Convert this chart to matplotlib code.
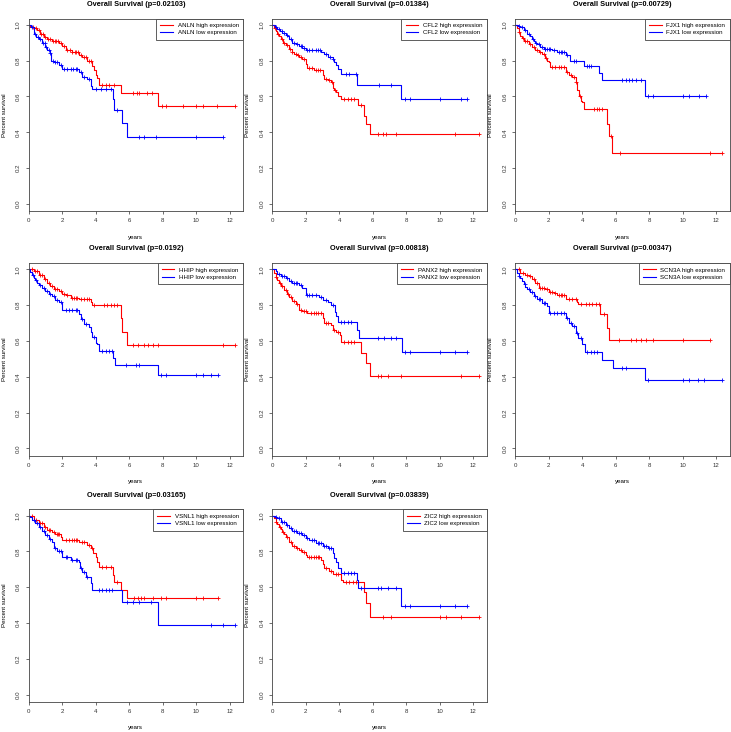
import numpy as np
import matplotlib
matplotlib.use("Agg")
from matplotlib import pyplot as plt
from matplotlib.lines import Line2D

plt.rcParams['font.family'] = ['Liberation Sans', 'DejaVu Sans']

GENES = ['ANLN', 'CFL2', 'FJX1', 'HHIP', 'PANX2', 'SCN3A', 'VSNL1', 'ZIC2']
PVALS = ['0.02103', '0.01384', '0.00729', '0.0192', '0.00818', '0.00347', '0.03165', '0.03839']

# Kaplan-Meier curves: event times (T), survival after each event (S), censor times (C)
ANLN_HIGH_T = [0.1, 0.3, 0.5, 0.7, 0.9, 1.1, 1.4, 1.8, 2.0, 2.2, 2.6, 3.0, 3.2, 3.5, 3.8, 3.9, 4.0, 4.1, 4.2, 5.5, 7.7]
ANLN_HIGH_S = [0.99, 0.98, 0.97, 0.95, 0.93, 0.92, 0.91, 0.90, 0.88, 0.86, 0.85, 0.83, 0.82, 0.80, 0.77, 0.75, 0.72, 0.70, 0.665, 0.62, 0.545]
ANLN_HIGH_C = [0.25, 0.45, 0.6, 0.75, 0.85, 1.0, 1.15, 1.3, 1.45, 1.55, 1.65, 1.75, 1.9, 2.1, 2.3, 2.45, 2.6, 2.75,
               2.85, 2.95, 3.1, 3.3, 3.45, 3.6, 3.75, 4.4, 4.6, 4.8, 5.1, 6.23, 6.47, 6.6, 7.06, 7.36, 7.96, 8.18,
               9.19, 9.99, 10.4, 11.24, 12.34]
ANLN_LOW_T = [0.15, 0.3, 0.45, 0.6, 0.8, 1.0, 1.1, 1.25, 1.35, 1.5, 1.8, 2.0, 3.0, 3.2, 3.5, 3.7, 3.8, 5.05, 5.1, 5.6, 5.85]
ANLN_LOW_S = [0.985, 0.95, 0.93, 0.92, 0.90, 0.875, 0.86, 0.84, 0.80, 0.79, 0.773, 0.754, 0.735, 0.707, 0.698, 0.66, 0.642, 0.587, 0.525, 0.45, 0.376]
ANLN_LOW_C = [0.2, 0.35, 0.55, 0.7, 0.85, 0.95, 1.05, 1.2, 1.3, 1.45, 1.6, 1.7, 1.9, 2.1, 2.3, 2.5, 2.65, 2.8, 2.9,
              3.1, 3.3, 3.6, 4.0, 4.3, 4.6, 4.9, 5.27, 6.57, 6.87, 7.6, 9.99, 11.6]

CFL2_HIGH_T = [0.1, 0.2, 0.3, 0.4, 0.5, 0.65, 0.8, 1.0, 1.15, 1.3, 1.5, 1.6, 1.8, 2.0, 2.1, 2.5, 2.9, 3.0, 3.1, 3.3,
               3.5, 3.6, 3.7, 3.8, 3.9, 4.1, 5.1, 5.5, 5.6, 5.85]
CFL2_HIGH_S = [0.98, 0.965, 0.95, 0.935, 0.92, 0.9, 0.885, 0.866, 0.85, 0.838, 0.83, 0.82, 0.81, 0.782, 0.758, 0.75,
               0.745, 0.717, 0.695, 0.69, 0.68, 0.648, 0.635, 0.624, 0.605, 0.587, 0.55, 0.493, 0.447, 0.39]
CFL2_HIGH_C = [0.15, 0.35, 0.55, 0.7, 0.9, 1.05, 1.2, 1.4, 1.55, 1.7, 1.9, 2.2, 2.35, 2.6, 2.75, 2.85, 3.2, 3.4,
               3.55, 3.75, 4.3, 4.5, 4.7, 4.9, 5.3, 6.3, 6.6, 6.8, 7.4, 10.9, 12.35]
CFL2_LOW_T = [0.15, 0.3, 0.45, 0.6, 0.8, 0.9, 1.0, 1.2, 1.4, 1.6, 1.8, 2.0, 2.9, 3.1, 3.3, 3.6, 3.7, 3.8, 3.9, 4.1, 5.05, 7.7]
CFL2_LOW_S = [0.99, 0.978, 0.965, 0.954, 0.945, 0.935, 0.92, 0.90, 0.894, 0.88, 0.87, 0.86, 0.847, 0.838, 0.82, 0.81,
              0.79, 0.773, 0.754, 0.726, 0.665, 0.583]
CFL2_LOW_C = [0.2, 0.4, 0.55, 0.7, 0.85, 1.1, 1.3, 1.5, 1.7, 1.75, 1.9, 2.1, 2.2, 2.4, 2.6, 2.75, 2.85, 3.2, 3.45,
              3.65, 4.4, 4.6, 5.0, 6.4, 7.1, 7.9, 8.2, 10.0, 11.3, 11.65]

FJX1_HIGH_T = [0.1, 0.2, 0.3, 0.4, 0.5, 0.8, 1.0, 1.2, 1.4, 1.6, 1.8, 1.9, 2.0, 2.05, 3.0, 3.2, 3.4, 3.6, 3.7, 3.8,
               3.9, 4.0, 4.1, 5.5, 5.6, 5.8]
FJX1_HIGH_S = [0.98, 0.96, 0.94, 0.925, 0.91, 0.89, 0.875, 0.86, 0.847, 0.834, 0.816, 0.80, 0.79, 0.764, 0.735, 0.717,
               0.707, 0.68, 0.633, 0.605, 0.577, 0.568, 0.53, 0.447, 0.38, 0.283]
FJX1_HIGH_C = [0.25, 0.45, 0.6, 0.7, 0.9, 1.1, 1.3, 1.5, 1.7, 1.85, 2.2, 2.4, 2.6, 2.75, 2.9, 3.1, 3.3, 3.5, 3.65,
               3.85, 4.7, 4.9, 5.0, 5.2, 5.7, 6.25, 11.6, 12.35]
FJX1_LOW_T = [0.15, 0.3, 0.5, 0.7, 0.9, 1.0, 1.1, 1.2, 1.3, 1.5, 1.7, 2.2, 2.5, 3.0, 3.25, 4.1, 5.0, 5.2, 7.75]
FJX1_LOW_S = [0.995, 0.987, 0.968, 0.95, 0.935, 0.92, 0.91, 0.90, 0.89, 0.875, 0.866, 0.857, 0.847, 0.83, 0.80, 0.77,
              0.73, 0.689, 0.60]
FJX1_LOW_C = [0.2, 0.4, 0.6, 0.8, 1.05, 1.25, 1.4, 1.6, 1.75, 1.8, 1.9, 2.0, 2.1, 2.3, 2.6, 2.7, 2.8, 2.9, 3.1, 3.5,
              3.6, 4.3, 4.4, 4.5, 6.4, 6.6, 6.8, 7.0, 7.2, 7.5, 7.9, 8.2, 10.0, 10.4, 11.0, 11.4]

HHIP_HIGH_T = [0.3, 0.6, 0.9, 1.1, 1.3, 1.5, 1.8, 2.0, 2.2, 2.5, 3.0, 3.75, 3.8, 5.5, 5.6, 5.85]
HHIP_HIGH_S = [0.99, 0.97, 0.947, 0.925, 0.906, 0.89, 0.88, 0.863, 0.854, 0.84, 0.835, 0.816, 0.80, 0.726, 0.65, 0.578]
HHIP_HIGH_C = [0.2, 0.4, 0.5, 0.7, 0.8, 1.0, 1.2, 1.4, 1.6, 1.7, 1.9, 2.1, 2.3, 2.6, 2.7, 2.8, 2.9, 3.1, 3.3, 3.5,
               3.6, 3.9, 4.5, 4.7, 4.9, 5.1, 5.3, 6.2, 6.5, 6.9, 7.1, 7.4, 7.7, 11.6, 12.35]
HHIP_LOW_T = [0.1, 0.2, 0.3, 0.4, 0.5, 0.6, 0.8, 1.0, 1.2, 1.4, 1.6, 1.8, 2.0, 3.0, 3.1, 3.3, 3.6, 3.7, 3.8, 4.0,
              4.1, 4.2, 5.05, 5.15, 7.75]
HHIP_LOW_S = [0.985, 0.966, 0.95, 0.938, 0.925, 0.914, 0.895, 0.88, 0.863, 0.848, 0.83, 0.816, 0.775, 0.75, 0.722,
              0.694, 0.68, 0.647, 0.62, 0.59, 0.58, 0.544, 0.507, 0.465, 0.41]
HHIP_LOW_C = [0.25, 0.45, 0.7, 0.9, 1.1, 1.3, 1.5, 1.7, 1.9, 2.2, 2.4, 2.6, 2.8, 2.9, 3.2, 3.4, 3.9, 4.4, 4.6, 4.8,
              5.0, 5.8, 6.4, 6.6, 7.9, 8.2, 10.0, 10.4, 10.9, 11.3]

PANX2_HIGH_T = [0.1, 0.2, 0.3, 0.4, 0.5, 0.7, 0.9, 1.0, 1.2, 1.4, 1.6, 1.8, 2.1, 3.0, 3.1, 3.5, 3.6, 3.8, 4.05, 4.1,
                5.3, 5.6, 5.85]
PANX2_HIGH_S = [0.978, 0.959, 0.94, 0.925, 0.907, 0.885, 0.862, 0.847, 0.825, 0.805, 0.773, 0.765, 0.754, 0.726,
                0.702, 0.69, 0.661, 0.652, 0.633, 0.592, 0.531, 0.475, 0.404]
PANX2_HIGH_C = [0.25, 0.45, 0.6, 0.8, 0.95, 1.1, 1.3, 1.5, 1.7, 1.9, 2.0, 2.3, 2.5, 2.6, 2.75, 2.9, 3.2, 3.3, 3.7,
                3.9, 4.3, 4.5, 4.7, 4.9, 6.3, 6.5, 6.9, 7.7, 11.3, 12.35]
PANX2_LOW_T = [0.2, 0.3, 0.5, 0.8, 1.0, 1.2, 1.6, 1.8, 2.0, 2.8, 3.0, 3.3, 3.5, 3.75, 3.8, 3.9, 5.05, 5.15, 7.75]
PANX2_LOW_S = [0.99, 0.974, 0.963, 0.95, 0.937, 0.922, 0.912, 0.894, 0.857, 0.847, 0.829, 0.816, 0.80, 0.764, 0.737,
               0.704, 0.661, 0.615, 0.54]
PANX2_LOW_C = [0.4, 0.6, 0.7, 0.9, 1.1, 1.3, 1.4, 1.5, 1.7, 2.1, 2.2, 2.4, 2.6, 2.9, 3.2, 3.6, 4.1, 4.3, 4.5, 4.7,
               6.3, 6.7, 7.1, 7.4, 7.9, 8.2, 10.0, 10.9, 11.65]

SCN3A_HIGH_T = [0.3, 0.6, 0.8, 1.0, 1.2, 1.4, 1.8, 2.0, 2.3, 2.5, 3.0, 3.7, 3.75, 5.05, 5.5, 5.6]
SCN3A_HIGH_S = [0.98, 0.97, 0.963, 0.948, 0.925, 0.897, 0.888, 0.873, 0.866, 0.854, 0.835, 0.817, 0.804, 0.748,
                0.673, 0.607]
SCN3A_HIGH_C = [0.2, 0.45, 0.7, 0.9, 1.1, 1.3, 1.5, 1.6, 1.7, 1.9, 2.1, 2.2, 2.4, 2.6, 2.7, 2.8, 2.9, 3.2, 3.4, 3.6,
                3.9, 4.2, 4.4, 4.6, 4.8, 5.0, 5.3, 6.2, 6.9, 7.2, 7.5, 7.8, 8.2, 10.0, 11.65]
SCN3A_LOW_T = [0.1, 0.2, 0.3, 0.4, 0.5, 0.6, 0.7, 0.9, 1.1, 1.3, 1.6, 1.9, 2.0, 3.0, 3.2, 3.4, 3.6, 3.75, 4.0, 4.15,
               5.15, 5.85, 7.75]
SCN3A_LOW_S = [0.98, 0.965, 0.953, 0.935, 0.916, 0.90, 0.89, 0.873, 0.85, 0.832, 0.813, 0.794, 0.757, 0.729, 0.70,
               0.682, 0.645, 0.617, 0.58, 0.538, 0.495, 0.449, 0.383]
SCN3A_LOW_C = [0.25, 0.55, 0.8, 1.0, 1.2, 1.4, 1.5, 1.7, 1.8, 2.1, 2.3, 2.5, 2.7, 2.9, 3.1, 3.3, 3.5, 3.7, 3.9, 4.3,
               4.5, 4.7, 4.9, 6.4, 6.6, 7.9, 10.0, 10.4, 10.9, 11.3, 12.35]

VSNL1_HIGH_T = [0.3, 0.6, 0.9, 1.1, 1.4, 1.6, 1.9, 2.0, 3.0, 3.5, 3.7, 3.85, 4.0, 4.1, 4.2, 5.05, 5.1, 5.5, 5.85]
VSNL1_HIGH_S = [0.976, 0.957, 0.938, 0.92, 0.907, 0.896, 0.879, 0.864, 0.855, 0.836, 0.817, 0.79, 0.77, 0.743,
                0.715, 0.668, 0.63, 0.584, 0.537]
VSNL1_HIGH_C = [0.2, 0.45, 0.7, 0.8, 1.0, 1.2, 1.3, 1.5, 1.7, 1.75, 1.8, 2.2, 2.4, 2.6, 2.7, 2.8, 2.9, 3.2, 3.3, 3.6,
                3.8, 4.4, 4.6, 4.9, 5.3, 6.3, 6.5, 6.7, 6.9, 7.4, 7.9, 8.2, 10.0, 10.4, 11.3]
VSNL1_LOW_T = [0.1, 0.2, 0.4, 0.6, 0.8, 1.0, 1.2, 1.4, 1.5, 1.7, 2.0, 2.5, 3.0, 3.05, 3.2, 3.4, 3.7, 3.8, 5.6, 7.75]
VSNL1_LOW_S = [0.99, 0.976, 0.957, 0.938, 0.916, 0.892, 0.87, 0.85, 0.817, 0.80, 0.77, 0.75, 0.739, 0.705, 0.683,
               0.659, 0.621, 0.584, 0.519, 0.388]
VSNL1_LOW_C = [0.3, 0.5, 0.7, 0.9, 1.1, 1.3, 1.6, 1.8, 1.9, 2.2, 2.3, 2.6, 2.8, 2.9, 3.1, 3.3, 3.5, 4.2, 4.4, 4.6,
               4.8, 5.0, 5.9, 6.2, 6.6, 7.3, 10.9, 11.6, 12.35]

ZIC2_HIGH_T = [0.1, 0.2, 0.3, 0.4, 0.5, 0.6, 0.7, 0.8, 1.0, 1.2, 1.4, 1.6, 1.8, 2.0, 2.1, 2.9, 3.0, 3.1, 3.4, 3.6,
               4.1, 4.2, 5.5, 5.6, 5.85]
ZIC2_HIGH_S = [0.985, 0.966, 0.952, 0.938, 0.925, 0.91, 0.896, 0.882, 0.854, 0.83, 0.817, 0.808, 0.795, 0.78, 0.767,
               0.752, 0.728, 0.705, 0.69, 0.672, 0.64, 0.63, 0.571, 0.509, 0.435]
ZIC2_HIGH_C = [0.25, 0.45, 0.65, 0.9, 1.1, 1.3, 1.5, 1.7, 1.9, 2.2, 2.3, 2.5, 2.6, 2.7, 2.8, 3.2, 3.5, 3.8, 3.9,
               4.4, 4.6, 4.8, 5.0, 6.6, 7.1, 10.0, 10.4, 11.3, 12.35]
ZIC2_LOW_T = [0.15, 0.3, 0.5, 0.8, 1.0, 1.2, 1.5, 1.8, 2.0, 2.2, 2.6, 3.0, 3.3, 3.6, 3.7, 3.8, 3.9, 4.1, 5.05, 5.1, 7.7]
ZIC2_LOW_S = [0.993, 0.985, 0.966, 0.948, 0.933, 0.914, 0.901, 0.892, 0.873, 0.864, 0.845, 0.832, 0.817, 0.79, 0.761,
              0.739, 0.705, 0.677, 0.64, 0.597, 0.496]
ZIC2_LOW_C = [0.2, 0.4, 0.6, 0.7, 0.9, 1.1, 1.3, 1.4, 1.6, 1.7, 1.9, 2.1, 2.4, 2.5, 2.7, 2.8, 2.9, 3.1, 3.2, 3.4,
              3.5, 4.3, 4.5, 4.7, 4.9, 5.3, 6.3, 6.5, 6.9, 7.4, 7.9, 8.2, 10.0, 10.9, 11.65]

CURVES = [
    (ANLN_HIGH_T, ANLN_HIGH_S, ANLN_HIGH_C, ANLN_LOW_T, ANLN_LOW_S, ANLN_LOW_C),
    (CFL2_HIGH_T, CFL2_HIGH_S, CFL2_HIGH_C, CFL2_LOW_T, CFL2_LOW_S, CFL2_LOW_C),
    (FJX1_HIGH_T, FJX1_HIGH_S, FJX1_HIGH_C, FJX1_LOW_T, FJX1_LOW_S, FJX1_LOW_C),
    (HHIP_HIGH_T, HHIP_HIGH_S, HHIP_HIGH_C, HHIP_LOW_T, HHIP_LOW_S, HHIP_LOW_C),
    (PANX2_HIGH_T, PANX2_HIGH_S, PANX2_HIGH_C, PANX2_LOW_T, PANX2_LOW_S, PANX2_LOW_C),
    (SCN3A_HIGH_T, SCN3A_HIGH_S, SCN3A_HIGH_C, SCN3A_LOW_T, SCN3A_LOW_S, SCN3A_LOW_C),
    (VSNL1_HIGH_T, VSNL1_HIGH_S, VSNL1_HIGH_C, VSNL1_LOW_T, VSNL1_LOW_S, VSNL1_LOW_C),
    (ZIC2_HIGH_T, ZIC2_HIGH_S, ZIC2_HIGH_C, ZIC2_LOW_T, ZIC2_LOW_S, ZIC2_LOW_C),
]

W, H = 731, 732
COL_LEFT = [28.7, 272.3, 515.3]
ROW_TOP = [18.5, 263.0, 509.3]
BOX_W, BOX_H = 214.3, 192.5
FS = 4.4


def km_curve(ax, t, s, c, color):
    ''' Step curve with censor crosses '''
    t = np.asarray(t)
    s = np.asarray(s)
    c = np.asarray(c)
    end = max(c.max(), t[-1])
    xs = np.concatenate([[0], t, [end]])
    ys = np.concatenate([[1.0], s, [s[-1]]])
    ax.step(xs, ys, where='post', color=color, lw=0.8)
    levels = np.concatenate([[1.0], s])
    yc = levels[np.searchsorted(t, c, side='right')]
    ax.plot(c, yc, '+', color=color, ms=3.5, mew=0.6, ls='none')


fig = plt.figure(figsize=(W / 100, H / 100), dpi=100)

for i, gene in enumerate(GENES):
    r, col = divmod(i, 3)
    left = COL_LEFT[col] / W
    bottom = 1 - (ROW_TOP[r] + BOX_H) / H
    ax = fig.add_axes([left, bottom, BOX_W / W, BOX_H / H])

    ht, hs, hc, lt, ls, lc = CURVES[i]
    km_curve(ax, ht, hs, hc, 'red')
    km_curve(ax, lt, ls, lc, 'blue')

    ax.set_xlim(0, 12.8)
    ax.set_ylim(-0.04, 1.035)
    ax.set_xticks(np.arange(0, 13, 2))
    ax.set_yticks(np.arange(0, 1.01, 0.2))
    ax.set_yticklabels(['{:.1f}'.format(v) for v in np.arange(0, 1.01, 0.2)],
                       rotation=90, va='center')
    ax.tick_params(direction='out', length=2.2, width=0.5, labelsize=FS, pad=3.0, colors='#333333')
    ax.tick_params(axis='y', pad=3.5)
    for sp in ax.spines.values():
        sp.set_linewidth(0.6)
        sp.set_color('#444444')

    ax.text(0.5, 1 + 14 / BOX_H, 'Overall Survival (p={})'.format(PVALS[i]),
            transform=ax.transAxes, ha='center', va='center', fontsize=5.3, fontweight='bold')
    ax.text(-24.5 / BOX_W, 0.5, 'Percent survival', transform=ax.transAxes,
            rotation=90, ha='center', va='center', fontsize=FS)
    ax.text(0.5, -26 / BOX_H, 'years', transform=ax.transAxes,
            ha='center', va='center', fontsize=FS)

    handles = [Line2D([], [], color='red', lw=0.8), Line2D([], [], color='blue', lw=0.8)]
    leg = ax.legend(handles, ['{} high expression'.format(gene), '{} low expression'.format(gene)],
                    loc='upper right', borderaxespad=0, fontsize=FS, handlelength=2.0,
                    handletextpad=0.8, borderpad=0.7, labelspacing=0.35, fancybox=False,
                    framealpha=1, edgecolor='#444444')
    leg.get_frame().set_linewidth(0.6)

fig.savefig('out.png', dpi=100)
